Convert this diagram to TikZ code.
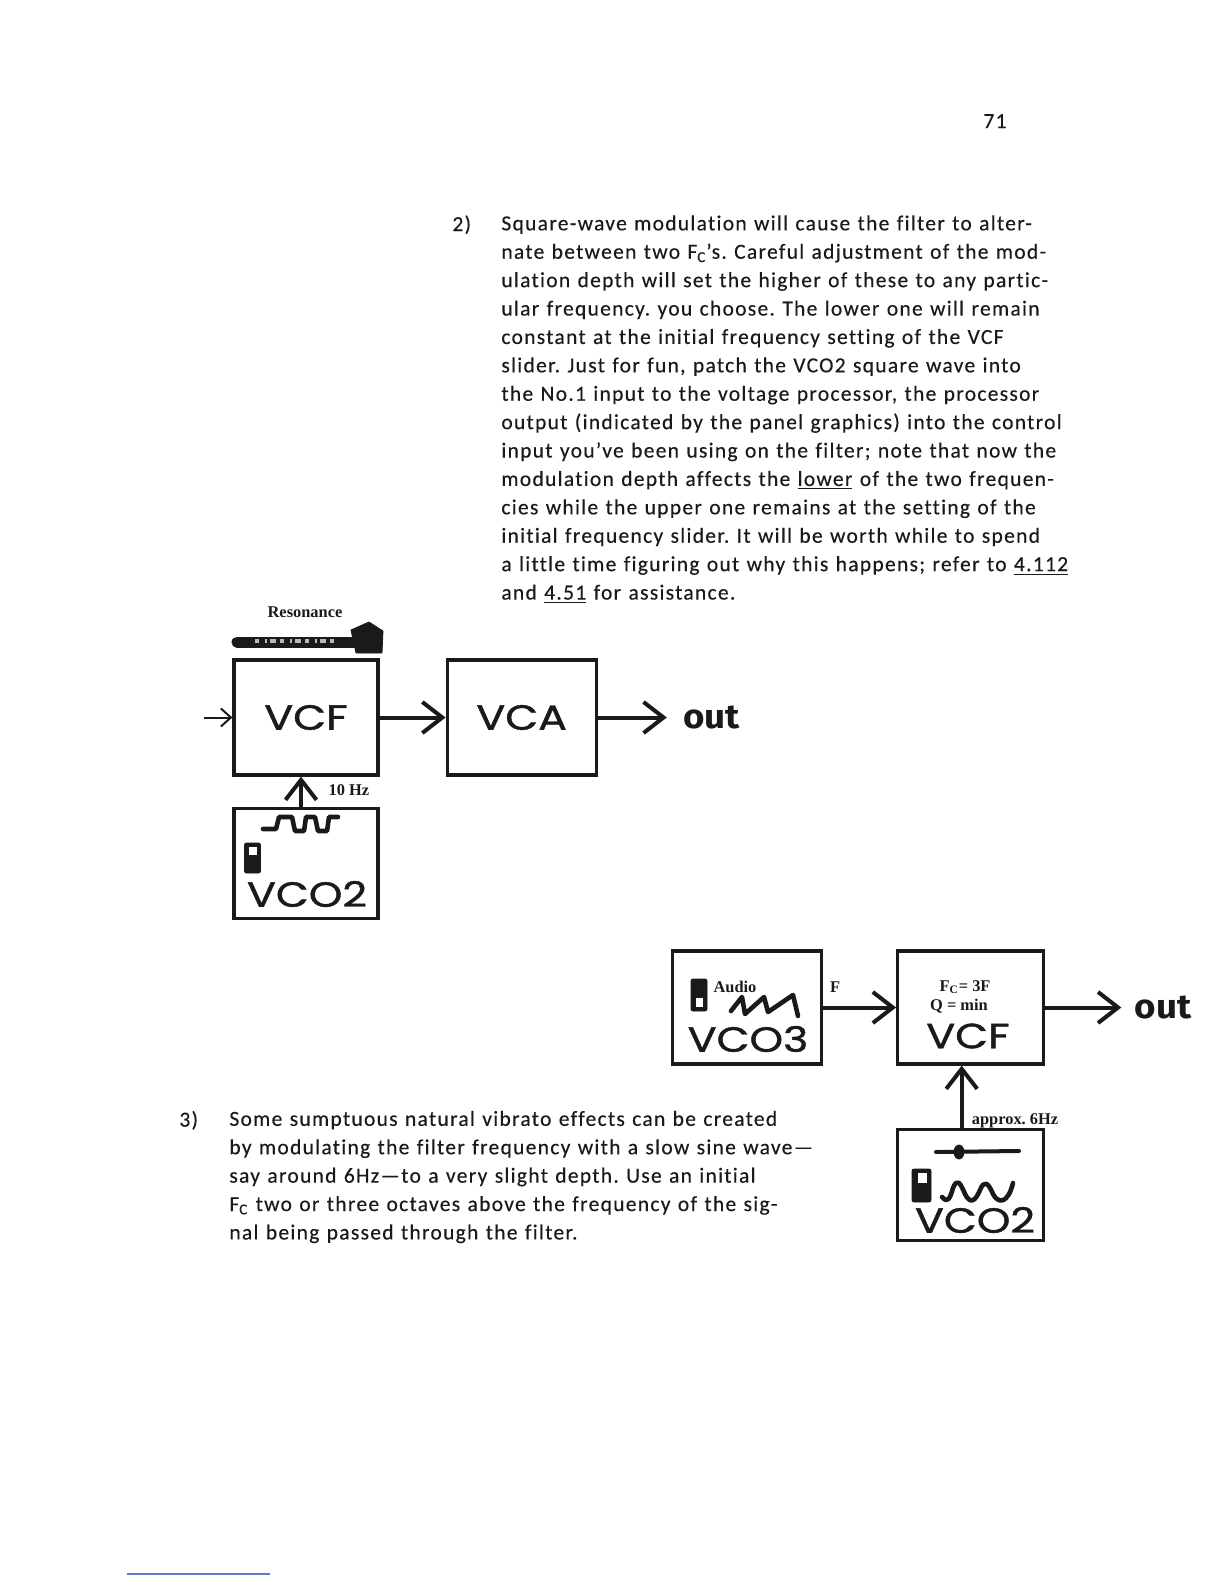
\documentclass[tikz,border=0pt]{standalone}
\usepackage{fontspec}
\usepackage{xcolor}
\usetikzlibrary{arrows.meta,positioning}
\setmainfont{Carlito}
\newfontfamily\bodyfont[LetterSpace=6,WordSpace=1.2,Ligatures=NoCommon,FakeBold=0.3]{Carlito}
\newfontfamily\handfont[FakeStretch=1.22,FakeBold=1.2]{Poppins}
\newfontfamily\outfont[BoldFont={Fira Sans Bold},FakeStretch=1.08]{Fira Sans}
\newfontfamily\smallfont{Liberation Serif}
\definecolor{ink}{HTML}{1A1A1A}
\definecolor{rule}{HTML}{5B7BC8}
\tikzset{
  box/.style={draw=ink,line width=1.6pt,fill=white,minimum width=72pt,minimum height=56.5pt,inner sep=0pt,align=center},
  widebox/.style={box,minimum width=74.5pt},
  hand/.style={font=\handfont\fontsize{17.5}{17.5}\selectfont,text=ink,inner sep=0pt},
  outlbl/.style={font=\outfont\fontsize{17}{17}\selectfont\bfseries,text=ink,inner sep=0pt},
  small/.style={font=\smallfont\fontsize{8.2}{9}\selectfont\bfseries,text=ink,inner sep=0pt,align=center},
  para/.style={font=\bodyfont\fontsize{10.75}{14.2}\selectfont,text=ink,inner sep=0pt,align=left,anchor=north west},
  flow/.style={-{Straight Barb[length=10pt,width=15.5pt]},line width=2pt,draw=ink},
  thinflow/.style={-{Straight Barb[length=5pt,width=9pt]},line width=1pt,draw=ink},
  wave/.style={draw=ink,line width=2.3pt,line cap=round,line join=round},
  knob/.style={fill=ink,draw=ink,line join=round},
  switchbody/.style={fill=ink,draw=ink,rounded corners=1pt}
}
\begin{document}
\frenchspacing
\begin{tikzpicture}[x=0.5pt,y=-0.5pt,node distance=33pt]
  \useasboundingbox[fill=white] (0,0) rectangle (1224,1584);
  \node[para,anchor=base] (page) at (995,128) {71};
  \node[para] (numa) at (452,215) {2)};
  \node[para] (parb) at (501,215) {Square-wave modulation will cause the filter to alter-\\
    nate between two F\textsubscript{C}’s. Careful adjustment of the mod-\\
    ulation depth will set the higher of these to any partic-\\
    ular frequency. you choose. The lower one will remain\\
    constant at the initial frequency setting of the VCF\\
    slider. Just for fun, patch the VCO2 square wave into\\
    the No.1 input to the voltage processor, the processor\\
    output (indicated by the panel graphics) into the control\\
    input you’ve been using on the filter; note that now the\\
    modulation depth affects the \underline{lower} of the two frequen-\\
    cies while the upper one remains at the setting of the\\
    initial frequency slider. It will be worth while to spend\\
    a little time figuring out why this happens; refer to \underline{4.112}\\
    and \underline{4.51} for assistance.};
  \node[para] (numb) at (179,1110.5) {3)};
  \node[para] (parc) at (229,1110.5) {Some sumptuous natural vibrato effects can be created\\
    by modulating the filter frequency with a slow sine wave—\\
    say around 6Hz—to a very slight depth. Use an initial\\
    F\textsubscript{C} two or three octaves above the frequency of the sig-\\
    nal being passed through the filter.};

  \node[box,minimum height=57.5pt,font=\handfont\fontsize{17.5}{17.5}\selectfont,text=ink] (vcf) at (306,717.5) {VCF};
  \node[widebox,minimum height=57.5pt,font=\handfont\fontsize{17.5}{17.5}\selectfont,text=ink,right=of vcf] (vca) {VCA};
  \node[box,minimum height=55pt,below=15pt of vcf] (vcotwo) {};
  \node[outlbl,right=42.5pt of vca] (outa) {out};
  \coordinate (ina) at (204,717.5);
  \node[small] (res) at (305,612) {Resonance};
  \node[small] (hz) at (349,790) {10 Hz};
  \node[hand] (vcotxt) at (307,894) {VCO2};
  \draw[thinflow] (ina) -- (vcf);
  \draw[flow] (vcf) -- (vca);
  \draw[flow,shorten >=8pt] (vca) -- (outa);
  \draw[flow] ([xshift=-2.5pt]vcotwo.north) -- ([xshift=-2.5pt]vcf.south);
  \draw[ink,line width=5.5pt,line cap=round] (237,642) -- (355,642);
  \draw[gray!55,line width=2pt,dash pattern=on 2pt off 3pt on 1pt off 1.5pt on 3pt off 2pt] (255,641) -- (335,641);
  \fill[knob] (369,622) -- (383,631) -- (382,653) -- (356,653) -- (351,630) -- cycle;
  \draw[wave] (263,829) -- (276,829) -- (279,817) -- (292,817) -- (295,831) -- (304,831) -- (306,817) -- (315,817) -- (318,831) -- (327,831) -- (329,817) -- (338,817);
  \node[switchbody,minimum width=8pt,minimum height=15pt,inner sep=0pt] (swa) at (252.5,858) {};
  \fill[white] (249,847) rectangle (257,855);

  \node[widebox] (vcothree) at (747,1007.5) {};
  \node[box,right=36.5pt of vcothree,minimum width=73pt] (vcfb) {};
  \node[box,below=31pt of vcfb,minimum width=73pt,minimum height=55.5pt] (vcotwob) {};
  \node[outlbl,right=44.5pt of vcfb] (outb) {out};
  \node[small] (aud) at (735,987) {Audio};
  \node[small] (freq) at (835,987) {F};
  \node[small] (fc) at (965,987) {F\textsubscript{C}= 3F};
  \node[small] (qmin) at (959,1006) {Q = min};
  \node[small] (six) at (1015,1121) {approx. 6Hz};
  \node[hand] (vcotxtb) at (748,1039) {VCO3};
  \node[hand] (vcftxt) at (968,1036) {VCF};
  \node[hand] (vcotxtc) at (975,1220) {VCO2};
  \draw[flow] (vcothree) -- (vcfb);
  \draw[flow,shorten >=6.5pt] (vcfb) -- (outb);
  \draw[flow] ([xshift=-4.5pt]vcotwob.north) -- ([xshift=-4.5pt]vcfb.south);
  \fill[switchbody] (691,979) rectangle (707,1011);
  \fill[white] (696,998) rectangle (703,1007);
  \draw[wave] (731,1011) -- (742,997) -- (745,1014) -- (764,997) -- (768,1012) -- (793,995) -- (798,1016);
  \draw[ink,line width=2pt,line cap=round] (936,1152) -- (1019,1151);
  \fill[knob] (959,1152) ellipse (5 and 7);
  \fill[switchbody] (912,1169) rectangle (931,1202);
  \fill[white] (918,1173) rectangle (927,1183);
  \draw[wave] (942,1197) .. controls (948,1204) and (950,1198) .. (953,1188) .. controls (957,1178) and (960,1182) .. (965,1194) .. controls (970,1204) and (975,1202) .. (980,1190) .. controls (984,1180) and (988,1182) .. (993,1194) .. controls (998,1204) and (1008,1204) .. (1013,1183);

  \coordinate (rulea) at (127,1574);
  \coordinate (ruleb) at (270,1574);
  \draw[rule,line width=0.6pt] (rulea) -- (ruleb);
\end{tikzpicture}
\end{document}
